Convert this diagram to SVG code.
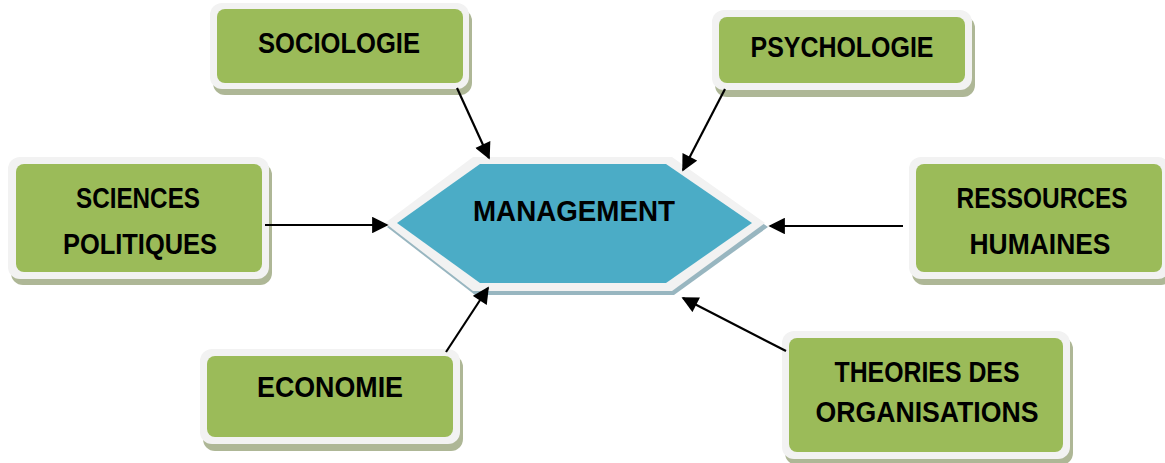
<svg xmlns="http://www.w3.org/2000/svg" width="1165" height="463" viewBox="0 0 1165 463">
<defs>
<style>
.sh{fill:#aeb796}
.fr{fill:#f2f2f2}
.gr{fill:#9bbb59}
.t{font-family:"Liberation Sans",Arial,sans-serif;font-weight:bold;font-size:29px;fill:#000;text-anchor:middle}
.c{stroke:#000;stroke-width:2.2;fill:none;marker-end:url(#ah)}
</style>
<marker id="ah" viewBox="0 0 10 10" refX="9" refY="5" markerWidth="8" markerHeight="7.5" markerUnits="strokeWidth" orient="auto">
<path d="M0,0 L10,5 L0,10 z" fill="#000"/>
</marker>
</defs>
<rect width="1165" height="463" fill="#fff"/>

<g id="management">
<polygon points="475,161 674,161 768,227 674,295 475,295 387,227" fill="#98b6c0"/>
<polygon points="473,157 672,157 765,223 672,291 473,291 385,223" class="fr"/>
<polygon points="480,164 666,164 752,223 666,283 480,283 397,223" fill="#4bacc6"/>
<text class="t" x="574" y="221" textLength="202" lengthAdjust="spacingAndGlyphs">MANAGEMENT</text>
</g>

<g id="sociologie">
<rect x="213" y="9" width="259" height="86" rx="12" class="sh"/>
<rect x="210" y="3" width="259" height="86" rx="12" class="fr"/>
<rect x="217" y="9" width="246" height="74" rx="8" class="gr"/>
<text class="t" x="339" y="53" textLength="162" lengthAdjust="spacingAndGlyphs">SOCIOLOGIE</text>
</g>

<g id="psychologie">
<rect x="715" y="16" width="260" height="81" rx="12" class="sh"/>
<rect x="712" y="10" width="260" height="80" rx="12" class="fr"/>
<rect x="719" y="17" width="246" height="66" rx="8" class="gr"/>
<text class="t" x="842" y="57" textLength="183" lengthAdjust="spacingAndGlyphs">PSYCHOLOGIE</text>
</g>

<g id="sciences-politiques">
<rect x="11" y="163" width="261" height="122" rx="12" class="sh"/>
<rect x="8" y="157" width="261" height="122" rx="12" class="fr"/>
<rect x="16" y="164" width="246" height="108" rx="8" class="gr"/>
<text class="t" x="138" y="208" textLength="124" lengthAdjust="spacingAndGlyphs">SCIENCES</text>
<text class="t" x="140" y="254" textLength="154" lengthAdjust="spacingAndGlyphs">POLITIQUES</text>
</g>

<g id="ressources-humaines">
<rect x="912" y="163" width="261" height="122" rx="12" class="sh"/>
<rect x="909" y="157" width="261" height="122" rx="12" class="fr"/>
<rect x="916" y="164" width="246" height="108" rx="8" class="gr"/>
<text class="t" x="1042" y="208" textLength="171" lengthAdjust="spacingAndGlyphs">RESSOURCES</text>
<text class="t" x="1040" y="254" textLength="141" lengthAdjust="spacingAndGlyphs">HUMAINES</text>
</g>

<g id="economie">
<rect x="203" y="355" width="260" height="96" rx="12" class="sh"/>
<rect x="200" y="349" width="260" height="95" rx="12" class="fr"/>
<rect x="207" y="356" width="246" height="81" rx="8" class="gr"/>
<text class="t" x="330" y="397" textLength="146" lengthAdjust="spacingAndGlyphs">ECONOMIE</text>
</g>

<g id="theories-des-organisations">
<rect x="785" y="337" width="288" height="128" rx="12" class="sh"/>
<rect x="782" y="331" width="288" height="128" rx="12" class="fr"/>
<rect x="789" y="338" width="274" height="114" rx="8" class="gr"/>
<text class="t" x="927" y="382" textLength="185" lengthAdjust="spacingAndGlyphs">THEORIES DES</text>
<text class="t" x="927" y="422" textLength="223" lengthAdjust="spacingAndGlyphs">ORGANISATIONS</text>
</g>

<g id="connectors">
<line class="c" x1="457" y1="88" x2="489" y2="158"/>
<line class="c" x1="725" y1="89" x2="683" y2="170"/>
<line class="c" x1="265" y1="225" x2="387" y2="225"/>
<line class="c" x1="903" y1="226" x2="770" y2="226"/>
<line class="c" x1="446" y1="352" x2="488" y2="288"/>
<line class="c" x1="786" y1="351" x2="683" y2="298"/>
</g>
</svg>
